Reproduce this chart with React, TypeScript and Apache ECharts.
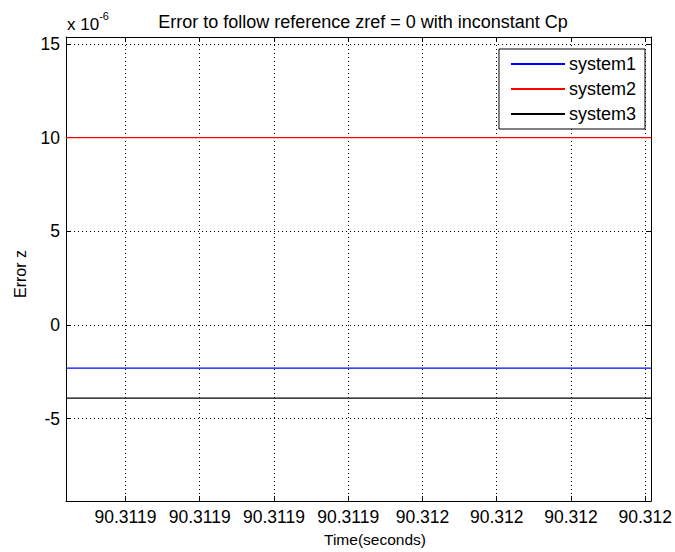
import React, { useEffect, useRef } from "react";
import * as echarts from "echarts";

const FONT = "'Liberation Sans', Arial, Helvetica, sans-serif";

const titleText = "Error to follow reference zref = 0 with inconstant Cp";
const xAxisName = "Time(seconds)";
const yAxisName = "Error z";
const exponentBase = "x 10";
const exponentPower = "-6";

// x positions (index units) and their tick labels
const xTickPositions = [1, 2, 3, 4, 5, 6, 7, 8];
const xTickLabels = ["90.3119", "90.3119", "90.3119", "90.3119", "90.312", "90.312", "90.312", "90.312"];
const xMin = 0.2;
const xMax = 8.08;

// y values in units of 1e-6
const yTicks = [-5, 0, 5, 10, 15];
const yMin = -9.4;
const yMax = 15.37;

const seriesNames = ["system1", "system2", "system3"];
const seriesColors = ["#0000ff", "#ff0000", "#000000"];
const seriesValues = [-2.31, 10.0, -3.91];

export default function App() {
  const ref = useRef<HTMLDivElement>(null);
  useEffect(() => {
    document.body.style.margin = "0";
    const chart = echarts.init(ref.current!, null, { renderer: "svg" });
    const gridLine = { show: true, lineStyle: { color: "#000", type: [1, 3], width: 1 } };
    const axisLine = { show: true, onZero: false, lineStyle: { color: "#000", width: 1 } };
    const tick = (vals: number[]) => ({
      show: true,
      inside: true,
      length: 5,
      customValues: vals,
      lineStyle: { color: "#000" },
    });
    chart.setOption({
      animation: false,
      backgroundColor: "#fff",
      textStyle: { fontFamily: FONT },
      title: {
        text: titleText,
        left: 358,
        textAlign: "center",
        top: 8,
        textStyle: { fontSize: 18, fontWeight: "normal", color: "#000", fontFamily: FONT },
      },
      legend: {
        orient: "vertical",
        right: 30,
        top: 49,
        padding: [6, 9, 6, 11],
        itemGap: 7,
        itemWidth: 54,
        itemHeight: 1,
        borderColor: "#000",
        borderWidth: 1,
        backgroundColor: "#fff",
        textStyle: { fontSize: 18, color: "#000", fontFamily: FONT, padding: [0, 0, 0, -1] },
        data: seriesNames,
      },
      grid: { left: 66, top: 37, width: 588, height: 464, containLabel: false },
      xAxis: [
        {
          type: "value",
          min: xMin,
          max: xMax,
          position: "bottom",
          axisLine,
          axisTick: tick(xTickPositions),
          axisLabel: {
            show: true,
            customValues: xTickPositions,
            margin: 7,
            fontSize: 17.5,
            color: "#000",
            fontFamily: FONT,
            formatter: (v: number) => xTickLabels[xTickPositions.indexOf(Math.round(v))] ?? "",
          },
          splitLine: gridLine,
        },
        {
          type: "value",
          min: xMin,
          max: xMax,
          position: "top",
          axisLine,
          axisTick: tick(xTickPositions),
          axisLabel: { show: false },
          splitLine: { show: false },
        },
      ],
      yAxis: [
        {
          type: "value",
          min: yMin,
          max: yMax,
          position: "left",
          axisLine,
          axisTick: tick(yTicks),
          axisLabel: { show: true, customValues: yTicks, margin: 6, fontSize: 17.5, color: "#000", fontFamily: FONT },
          splitLine: gridLine,
        },
        {
          type: "value",
          min: yMin,
          max: yMax,
          position: "right",
          axisLine,
          axisTick: tick(yTicks),
          axisLabel: { show: false },
          splitLine: { show: false },
        },
      ],
      graphic: [
        {
          type: "text",
          x: 67,
          y: 10,
          style: {
            text: `{a|${exponentBase}}{b|${exponentPower}}`,
            rich: {
              a: { fontSize: 17, fontFamily: FONT, fill: "#000", verticalAlign: "bottom", padding: [6, 0, 0, 0] },
              b: { fontSize: 11, fontFamily: FONT, fill: "#000", verticalAlign: "top" },
            },
          },
        },
        {
          type: "text",
          x: 375,
          y: 539,
          style: {
            text: xAxisName,
            fontSize: 15.5,
            fontFamily: FONT,
            fill: "#000",
            textAlign: "center",
            textVerticalAlign: "middle",
          },
        },
        {
          type: "text",
          x: 20,
          y: 274,
          rotation: Math.PI / 2,
          style: {
            text: yAxisName,
            fontSize: 16,
            fontFamily: FONT,
            fill: "#000",
            textAlign: "center",
            textVerticalAlign: "middle",
          },
        },
      ],
      series: seriesNames.map((name, i) => ({
        name,
        type: "line",
        symbol: "none",
        showSymbol: false,
        legendIcon: "rect",
        xAxisIndex: 0,
        yAxisIndex: 0,
        lineStyle: { color: seriesColors[i], width: 1.2 },
        itemStyle: { color: seriesColors[i] },
        z: 5,
        data: [
          [xMin, seriesValues[i]],
          [xMax, seriesValues[i]],
        ],
      })),
    });
    return () => chart.dispose();
  }, []);
  return <div ref={ref} style={{ width: 675, height: 552 }} />;
}
